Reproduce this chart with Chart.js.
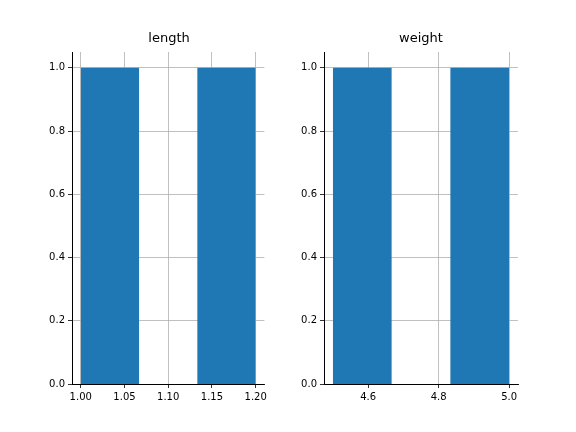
<!DOCTYPE html><html><head><meta charset="utf-8">
<script src="https://cdn.jsdelivr.net/npm/chart.js@4"></script>
<style>body{margin:0;width:576px;height:432px;background:#fff;position:relative;font-family:"DejaVu Sans"}
canvas{position:absolute;top:0}.t{position:absolute;top:30px;font-size:13px;text-align:center}</style></head><body>
<canvas id="c1" width="270" height="432" style="left:0"></canvas>
<canvas id="c2" width="232" height="432" style="left:290px"></canvas>
<div class="t" style="left:72px;width:194px">length</div>
<div class="t" style="left:324px;width:194px">weight</div>
<script>
const lengthEdges=[1.0,1.0667,1.1333,1.2], lengthCounts=[1,0,1];
const weightEdges=[4.5,4.6667,4.8333,5.0], weightCounts=[1,0,1];
const lengthTicks=[1.00,1.05,1.10,1.15,1.20];
const weightTicks=[4.6,4.8,5.0];
const yTicks=[0,0.2,0.4,0.6,0.8,1.0];
function pts(e,c){const p=[];for(let i=0;i<c.length;i++){p.push({x:e[i],y:0},{x:e[i],y:c[i]},{x:e[i+1],y:c[i]},{x:e[i+1],y:0});}return p;}
function mk(id,e,c,ticks,dec,yw){
 const span=e[e.length-1]-e[0];
 new Chart(document.getElementById(id),{type:'scatter',
 data:{datasets:[{data:pts(e,c),showLine:true,fill:'origin',backgroundColor:'#1f77b4',borderWidth:0,pointRadius:0,tension:0}]},
 options:{responsive:false,animation:false,devicePixelRatio:1,layout:{padding:{top:52,right:4,left:0,bottom:0}},
 plugins:{legend:{display:false},tooltip:{enabled:false}},
 scales:{x:{type:'linear',min:e[0]-span*0.05,max:e[e.length-1]+span*0.05,z:1,
   afterBuildTicks:a=>{a.ticks=ticks.map(v=>({value:v}))},afterFit:s=>{s.height=48},
   ticks:{color:'#000',font:{family:'DejaVu Sans',size:10},maxRotation:0,callback:v=>v.toFixed(dec)},
   grid:{color:'#b0b0b0',lineWidth:0.8,tickLength:4,tickColor:'#000'},border:{color:'#000',width:1}},
  y:{min:0,max:1.05,z:1,afterBuildTicks:a=>{a.ticks=yTicks.map(v=>({value:v}))},afterFit:s=>{s.width=yw},
   ticks:{color:'#000',font:{family:'DejaVu Sans',size:10},callback:v=>v.toFixed(1)},
   grid:{color:'#b0b0b0',lineWidth:0.8,tickLength:4,tickColor:'#000'},border:{color:'#000',width:1}}}}});
}
mk('c1',lengthEdges,lengthCounts,lengthTicks,2,72);
mk('c2',weightEdges,weightCounts,weightTicks,1,34);
</script></body></html>
